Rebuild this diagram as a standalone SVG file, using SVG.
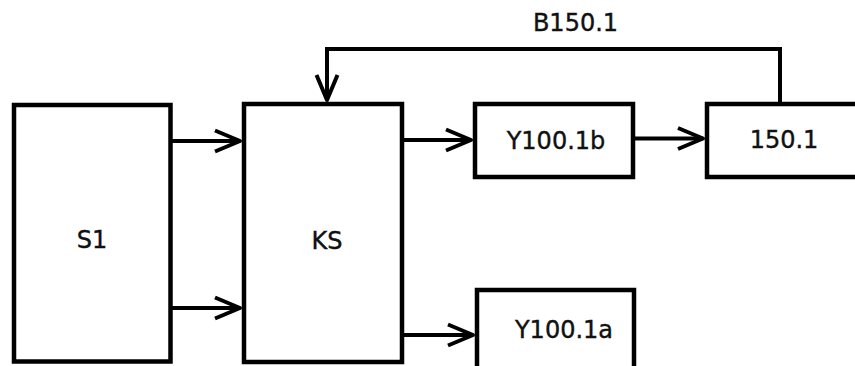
<svg xmlns="http://www.w3.org/2000/svg" width="855" height="366" viewBox="0 0 855 366">
<style>
.box{fill:#fff;stroke:#000;stroke-width:4.5}
.lbl{font-family:"DejaVu Sans",Verdana,sans-serif;font-size:24px;fill:#111;stroke:#111;stroke-width:0.4;text-anchor:middle}
.ln{fill:none;stroke:#000;stroke-width:4}
</style>
<defs>
<marker id="ah" markerUnits="userSpaceOnUse" markerWidth="40" markerHeight="30" viewBox="-30 -15 34 30" refX="0" refY="0" orient="auto" overflow="visible">
<path d="M-25,-10.5 L0,0 L-25,10.5" fill="none" stroke="#000" stroke-width="4" stroke-linejoin="round"/>
</marker>
</defs>
<rect width="855" height="366" fill="#fff"/>
<g id="S1"><rect class="box" x="14" y="105" width="156.5" height="256.5"/><text class="lbl" x="92" y="248">S1</text></g>
<g id="KS"><rect class="box" x="244" y="104" width="158" height="258"/><text class="lbl" x="327" y="249">KS</text></g>
<g id="Y100.1b"><rect class="box" x="475" y="104" width="158" height="73"/><text class="lbl" x="556" y="149">Y100.1b</text></g>
<g id="n150.1"><rect class="box" x="707" y="104" width="160" height="73"/><text class="lbl" x="784" y="148">150.1</text></g>
<g id="Y100.1a"><rect class="box" x="477" y="290" width="157" height="90"/><text class="lbl" x="564" y="338">Y100.1a</text></g>
<g id="connectors">
<line class="ln" x1="172" y1="141" x2="240" y2="141" marker-end="url(#ah)"/>
<line class="ln" x1="172" y1="308" x2="240" y2="308" marker-end="url(#ah)"/>
<line class="ln" x1="402" y1="140" x2="471" y2="140" marker-end="url(#ah)"/>
<line class="ln" x1="634" y1="138.5" x2="703" y2="138.5" marker-end="url(#ah)"/>
<line class="ln" x1="402" y1="335" x2="473" y2="335" marker-end="url(#ah)"/>
<polyline class="ln" points="780,102 780,49 327,49 327,100" marker-end="url(#ah)"/>
<text class="lbl" x="575.5" y="30.5">B150.1</text>
</g>
</svg>
